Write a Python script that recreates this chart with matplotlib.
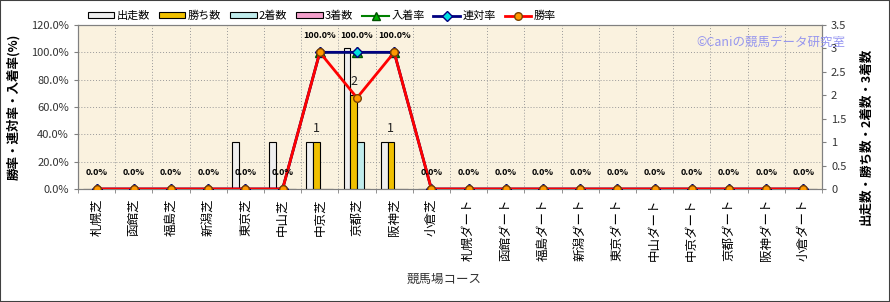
import matplotlib
matplotlib.use('Agg')
import matplotlib.pyplot as plt
import matplotlib.transforms as mtransforms
from matplotlib.patches import Patch, Rectangle
from matplotlib.lines import Line2D
import numpy as np

plt.rcParams['font.family'] = ['Noto Sans CJK JP', 'DejaVu Sans']

# データ
courses = ['札幌芝', '函館芝', '福島芝', '新潟芝', '東京芝', '中山芝', '中京芝', '京都芝', '阪神芝', '小倉芝',
           '札幌ダート', '函館ダート', '福島ダート', '新潟ダート', '東京ダート', '中山ダート', '中京ダート',
           '京都ダート', '阪神ダート', '小倉ダート']
starts = [0, 0, 0, 0, 1, 1, 1, 3, 1, 0, 0, 0, 0, 0, 0, 0, 0, 0, 0, 0]
wins = [0, 0, 0, 0, 0, 0, 1, 2, 1, 0, 0, 0, 0, 0, 0, 0, 0, 0, 0, 0]
seconds = [0, 0, 0, 0, 0, 0, 0, 1, 0, 0, 0, 0, 0, 0, 0, 0, 0, 0, 0, 0]
thirds = [0] * 20
place_rate = [0, 0, 0, 0, 0, 0, 100, 100, 100, 0, 0, 0, 0, 0, 0, 0, 0, 0, 0, 0]
quinella_rate = [0, 0, 0, 0, 0, 0, 100, 100, 100, 0, 0, 0, 0, 0, 0, 0, 0, 0, 0, 0]
win_rate = [0, 0, 0, 0, 0, 0, 100, 66.7, 100, 0, 0, 0, 0, 0, 0, 0, 0, 0, 0, 0]

bar_names = ['出走数', '勝ち数', '2着数', '3着数']
bar_colors = ['#efefef', '#f0c000', '#c0ecec', '#f4a0cc']

W, H = 890, 302
fig = plt.figure(figsize=(W / 100, H / 100), dpi=100)
fig.patch.set_facecolor('white')

L, R, T, B = 78, 822, 25, 189
ax = fig.add_axes([L / W, 1 - B / H, (R - L) / W, (B - T) / H])
ax.set_facecolor('#faf2df')
axr = ax.twinx()

x = np.arange(len(courses))
bw = 0.18

# 棒グラフ (件数)
series = [starts, wins, seconds, thirds]
for k, (vals, c) in enumerate(zip(series, bar_colors)):
    ax.bar(x + (k - 1.5) * bw, vals, width=bw, color=c, edgecolor='black', linewidth=0.8, zorder=3)

for i, v in enumerate(wins):
    if v > 0:
        ax.annotate(str(v), (x[i] - 0.5 * bw, v), xytext=(0, 10), textcoords='offset points',
                    ha='center', va='center', fontsize=9, color='#222222', zorder=4)

ax.set_ylim(0, 3.5)
ax.set_yticks(np.arange(0, 3.51, 0.5))
ax.set_yticklabels(['0', '0.5', '1', '1.5', '2', '2.5', '3', '3.5'])
ax.yaxis.tick_right()
ax.yaxis.set_label_position('right')
ax.set_ylabel('出走数・勝ち数・2着数・3着数', fontsize=9, fontweight='bold')
ax.yaxis.set_label_coords(1.05, 0.32)

# グリッド
ax.set_xlim(-0.5, len(courses) - 0.5)
ax.set_xticks(x)
ax.set_xticklabels(courses, rotation=90, fontsize=9)
ax.set_xticks(np.arange(-0.5, len(courses), 1), minor=True)
ax.tick_params(axis='x', which='major', length=0, pad=7)
ax.tick_params(axis='x', which='minor', length=3, color='#808080')
ax.grid(which='minor', axis='x', ls=(0, (1, 2)), color='#999999', lw=0.7, zorder=1)
blend = mtransforms.blended_transform_factory(ax.transAxes, axr.transData)
for g in range(20, 120, 20):
    ax.plot([0, 1], [g, g], transform=blend, ls=(0, (1, 2)), color='#999999', lw=0.7, zorder=1)
ax.set_xlabel('競馬場コース', fontsize=9, color='#333333')
ax.xaxis.set_label_coords(0.492, -0.51)

# 折れ線 (率)
axr.plot(x, place_rate, color='#008000', lw=1.5, marker='^', ms=7.5, mfc='#00b000', mec='#005000', zorder=3)
axr.plot(x, quinella_rate, color='#000080', lw=2, marker='D', ms=5, mfc='#00e0e0', mec='#000080', zorder=4)
axr.plot(x, win_rate, color='#ff0000', lw=2, marker='o', ms=5.5, mfc='#ff9900', mec='#7a4000', zorder=5)

for i, v in enumerate(place_rate):
    axr.annotate('%.1f%%' % v, (x[i], v), xytext=(0, 12), textcoords='offset points',
                 ha='center', va='center', fontsize=6.5, fontweight='bold', color='black', zorder=6)

axr.set_ylim(0, 120)
axr.set_yticks(range(0, 121, 20))
axr.set_yticklabels(['%.1f%%' % t for t in range(0, 121, 20)])
axr.yaxis.tick_left()
axr.yaxis.set_label_position('left')
axr.set_ylabel('勝率・連対率・入着率(%)', fontsize=9, fontweight='bold')
axr.yaxis.set_label_coords(-0.077, 0.5)

for a in (ax, axr):
    a.tick_params(axis='y', labelsize=8, labelcolor='#333333', length=3, color='#808080')
    for s in a.spines.values():
        s.set_color('#808080')
        s.set_linewidth(0.8)

# 凡例
handles = [Patch(facecolor=c, edgecolor='black', linewidth=0.8) for c in bar_colors]
handles += [
    Line2D([], [], color='#008000', lw=1.5, marker='^', ms=6, mfc='#00b000', mec='#005000'),
    Line2D([], [], color='#000080', lw=2, marker='D', ms=5, mfc='#00e0e0', mec='#000080'),
    Line2D([], [], color='#ff0000', lw=2, marker='o', ms=5.5, mfc='#ff9900', mec='#7a4000'),
]
labels = bar_names + ['入着率', '連対率', '勝率']
fig.legend(handles, labels, loc='center left', bbox_to_anchor=(82 / W, 1 - 16 / H), ncol=7,
           frameon=False, fontsize=8, handlelength=2.4, handleheight=0.45, handletextpad=0.2,
           columnspacing=0.8, borderpad=0)

# 透かし
fig.text(845 / W, 1 - 42 / H, '©Caniの競馬データ研究室', ha='right', va='center', fontsize=9,
         color='#8c8cf0', alpha=0.9)

fig.patches.append(Rectangle((0, 0), 1, 1, transform=fig.transFigure, fill=False,
                             edgecolor='#404040', linewidth=1.5))

fig.savefig('out.png', dpi=100)
